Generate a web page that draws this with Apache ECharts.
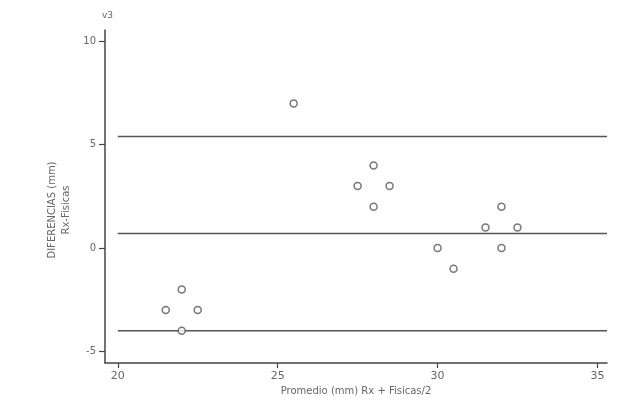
<!DOCTYPE html>
<html><head><meta charset="utf-8">
<script src="https://cdn.jsdelivr.net/npm/echarts@6/dist/echarts.min.js"></script>
<style>html,body{margin:0;padding:0;background:#fff}#c{width:621px;height:402px}</style>
</head><body><div id="c"></div>
<script>
// Data
const promedio = [25.5, 27.5, 28, 28, 28.5, 30, 30.5, 31.5, 32, 32, 32.5, 21.5, 22, 22.5, 22];
const diferencias = [7, 3, 4, 2, 3, 0, -1, 1, 2, 0, 1, -3, -2, -3, -4];
const limitLines = [5.4, 0.7, -4.0]; // upper limit, mean, lower limit
const limitStartX = 20;
const xTicks = [20, 25, 30, 35];
const yTicks = [-5, 0, 5, 10];
const xRange = [19.6, 35.3];
const yRange = [-5.56, 10.55];

const axisColor = '#444';
const textColor = '#666';
const font = 'DejaVu Sans';

const series = [{
  type: 'scatter',
  data: promedio.map((x, i) => [x, diferencias[i]]),
  symbol: 'circle',
  symbolSize: 7,
  itemStyle: { color: '#fff', borderColor: '#555', borderWidth: 1.5 },
  z: 5
}];
limitLines.forEach(v => {
  series.push({
    type: 'line',
    data: [[limitStartX, v], [xRange[1], v]],
    symbol: 'none',
    lineStyle: { color: '#555', width: 1.5 },
    silent: true,
    z: 3
  });
});

const chart = echarts.init(document.getElementById('c'), null, { renderer: 'canvas' });
chart.setOption({
  animation: false,
  backgroundColor: '#fff',
  grid: { left: 105, right: 14, top: 30, bottom: 39, containLabel: false },
  xAxis: {
    type: 'value', min: xRange[0], max: xRange[1],
    splitLine: { show: false },
    axisLine: { onZero: false, lineStyle: { color: axisColor, width: 1.5 } },
    axisTick: { show: true, length: 5, customValues: xTicks, lineStyle: { color: axisColor, width: 1.2 } },
    axisLabel: { customValues: xTicks, color: textColor, fontFamily: font, fontSize: 11, margin: 8 },
    name: 'Promedio (mm) Rx + Fisicas/2', nameLocation: 'middle', nameGap: 22,
    nameTextStyle: { color: textColor, fontFamily: font, fontSize: 10 }
  },
  yAxis: {
    type: 'value', min: yRange[0], max: yRange[1],
    splitLine: { show: false },
    axisLine: { show: true, onZero: false, lineStyle: { color: axisColor, width: 1.5 } },
    axisTick: { show: true, length: 6, customValues: yTicks, lineStyle: { color: axisColor, width: 1.2 } },
    axisLabel: { customValues: yTicks, color: textColor, fontFamily: font, fontSize: 10, margin: 9 }
  },
  graphic: [
    { type: 'text', left: 102, top: 11, style: { text: 'v3', fill: textColor, font: '9px ' + font } },
    { type: 'text', x: 52, y: 210, rotation: Math.PI / 2,
      style: { text: 'DIFERENCIAS (mm)', fill: textColor, font: '10px ' + font, align: 'center', verticalAlign: 'middle' } },
    { type: 'text', x: 66, y: 210, rotation: Math.PI / 2,
      style: { text: 'Rx-Fisicas', fill: textColor, font: '10px ' + font, align: 'center', verticalAlign: 'middle' } }
  ],
  series: series
});
</script></body></html>
